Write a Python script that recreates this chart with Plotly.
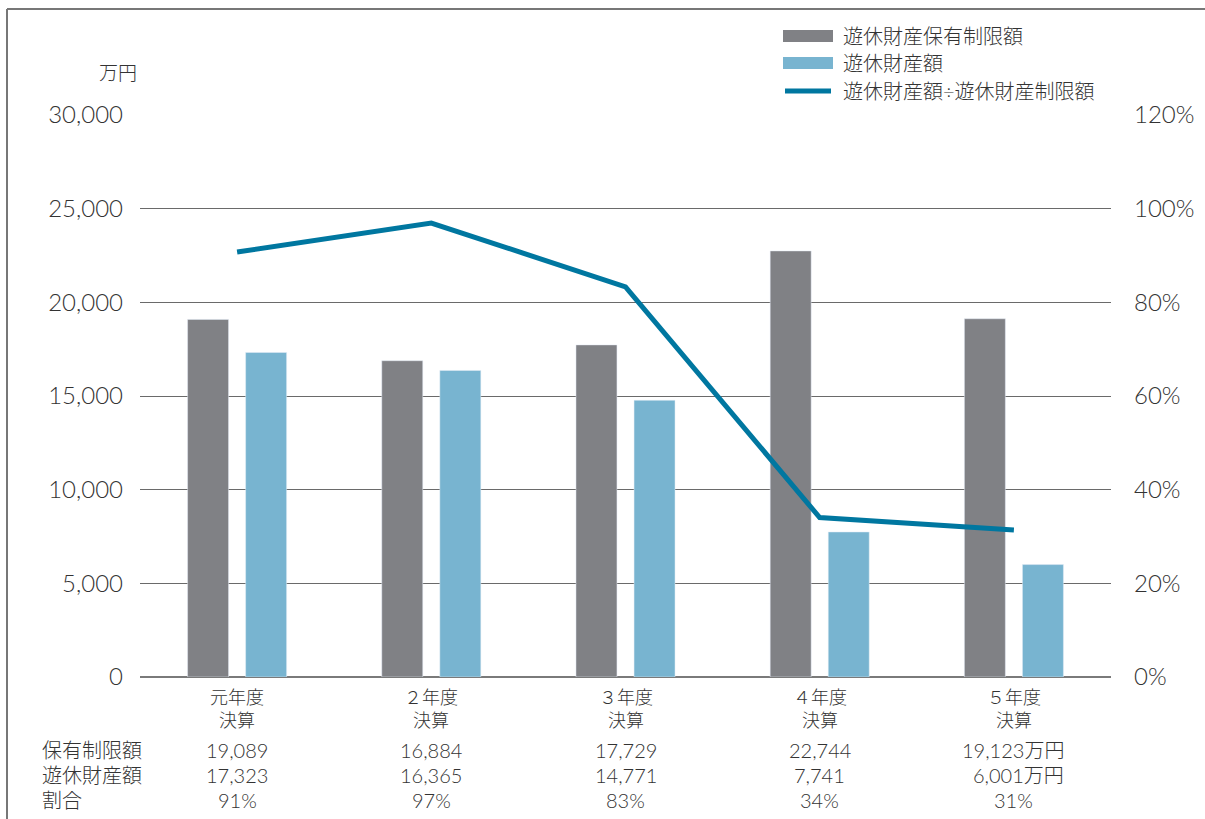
import plotly.graph_objects as go

categories = ["元年度<br>決算", "２年度<br>決算", "３年度<br>決算", "４年度<br>決算", "５年度<br>決算"]
limit_values = [19089, 16884, 17729, 22744, 19123]
idle_values = [17323, 16365, 14771, 7741, 6001]
ratio_values = [0.9075, 0.9693, 0.8332, 0.3404, 0.3138]
limit_labels = ["19,089", "16,884", "17,729", "22,744", "19,123万円"]
idle_labels = ["17,323", "16,365", "14,771", "7,741", "6,001万円"]
ratio_labels = ["91%", "97%", "83%", "34%", "31%"]
row_labels = ["保有制限額", "遊休財産額", "割合"]
legend_names = ["遊休財産保有制限額", "遊休財産額", "遊休財産額÷遊休財産制限額"]

W, H = 1205, 819
L, R, T, B = 140, 1111, 115, 677
FONT = "Lato, 'Noto Sans CJK JP', sans-serif"
TXT = "#333333"
GRAY = "#808185"
LBLUE = "#78B4D0"
DBLUE = "#0077A0"

def px_x(p):
    return (p - L) / (R - L)

def px_y(p):
    return (B - p) / (B - T)

xs = list(range(len(categories)))

fig = go.Figure()
fig.add_trace(go.Bar(x=xs, y=limit_values, name=legend_names[0], marker_color=GRAY,
                     width=0.211, offset=-0.255, showlegend=False))
fig.add_trace(go.Bar(x=xs, y=idle_values, name=legend_names[1], marker_color=LBLUE,
                     width=0.211, offset=0.044, showlegend=False))
fig.add_trace(go.Scatter(x=xs, y=ratio_values, name=legend_names[2], mode="lines",
                         line=dict(color=DBLUE, width=5), yaxis="y2", showlegend=False))

fig.update_layout(
    width=W, height=H,
    margin=dict(l=L, r=W - R, t=T, b=H - B),
    paper_bgcolor="white", plot_bgcolor="white",
    barmode="overlay",
    font=dict(family=FONT, color=TXT, weight=300),
    xaxis=dict(range=[-0.5, 4.5], tickvals=xs, showticklabels=False, showgrid=False,
               zeroline=False, showline=False, ticks=""),
    yaxis=dict(range=[0, 30000], dtick=5000, tickformat=",", showgrid=True,
               gridcolor="#6a6a6a", gridwidth=1, zeroline=True, zerolinecolor="#7a7a7a",
               zerolinewidth=2, ticks="", ticklabelstandoff=16,
               tickfont=dict(size=24, color=TXT, weight=300, family=FONT)),
    yaxis2=dict(range=[0, 1.2], dtick=0.2, tickformat=".0%", overlaying="y", side="right",
                showgrid=False, zeroline=False, ticks="", ticklabelstandoff=22,
                tickfont=dict(size=24, color=TXT, weight=300, family=FONT)),
)

annotations = []
shapes = []

def txt(x, y, text, size, xanchor="center", xref="paper", xshift=0):
    annotations.append(dict(x=x, y=y, xref=xref, yref="paper", text=text, showarrow=False,
                            xanchor=xanchor, yanchor="middle", xshift=xshift,
                            font=dict(size=size, color=TXT, family=FONT, weight=300)))

# unit label
txt(px_x(118), px_y(72), "万円", 19)
# category labels (two lines)
for c, cat in enumerate(categories):
    l1, l2 = cat.split("<br>")
    txt(c, px_y(697), l1, 18, xref="x")
    txt(c, px_y(720), l2, 18, xref="x")
# legend
leg_y = [36, 63, 91]
for i, name in enumerate(legend_names):
    yy = px_y(leg_y[i])
    if i < 2:
        shapes.append(dict(type="rect", xref="paper", yref="paper",
                           x0=px_x(783), x1=px_x(833), y0=px_y(leg_y[i] + 6), y1=px_y(leg_y[i] - 6),
                           fillcolor=[GRAY, LBLUE][i], line=dict(width=0)))
    else:
        shapes.append(dict(type="line", xref="paper", yref="paper",
                           x0=px_x(785), x1=px_x(831), y0=yy, y1=yy,
                           line=dict(color=DBLUE, width=5)))
    txt(px_x(841), yy, name, 20, xanchor="left")
# table
rows_y = [750, 775, 800]
rows = [limit_labels, idle_labels, ratio_labels]
for r, lab in enumerate(row_labels):
    txt(px_x(40), px_y(rows_y[r]), lab, 20, xanchor="left")
    for c, val in enumerate(rows[r]):
        if c == 4 and r < 2:
            txt(c, px_y(rows_y[r]), val, 20, xanchor="right", xref="x", xshift=52)
        else:
            txt(c, px_y(rows_y[r]), val, 20, xref="x")
# frame
shapes.append(dict(type="line", xref="paper", yref="paper", x0=px_x(7), x1=px_x(1205),
                   y0=px_y(9), y1=px_y(9), line=dict(color="#777777", width=2)))
shapes.append(dict(type="line", xref="paper", yref="paper", x0=px_x(7), x1=px_x(7),
                   y0=px_y(9), y1=px_y(819), line=dict(color="#777777", width=2)))

fig.update_layout(annotations=annotations, shapes=shapes)
fig.write_html("out.html", config={"displayModeBar": False},
               post_script="document.body.style.margin='0';")
